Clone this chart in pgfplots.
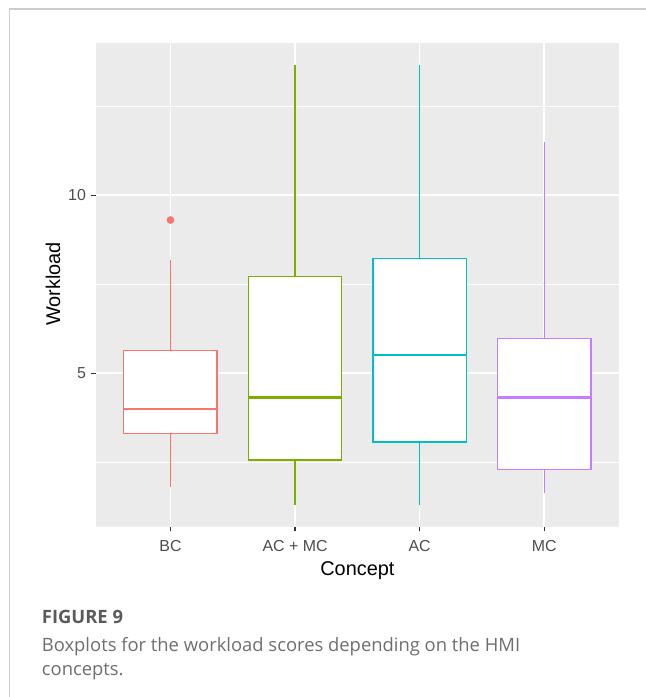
\documentclass[border=0pt]{standalone}
\usepackage{pgfplots}
\pgfplotsset{compat=1.18}
\usepgfplotslibrary{statistics}
\usepackage{fontspec}
\setmainfont{Liberation Sans}
\newfontfamily\capfont{Open Sans}
\definecolor{panelbg}{HTML}{EBEBEB}
\definecolor{bccol}{HTML}{F8766D}
\definecolor{acmccol}{HTML}{7CAE00}
\definecolor{accol}{HTML}{00BFC4}
\definecolor{mccol}{HTML}{C77CFF}
\definecolor{tickcol}{HTML}{4D4D4D}
\definecolor{capgray}{HTML}{6E6E6E}
\definecolor{figgray}{HTML}{5A5A5A}
\begin{document}
\begin{tikzpicture}[x=1pt,y=1pt]
\useasboundingbox (0,0) rectangle (646,697);
% frame
\draw[line width=1.6pt, color=black!20] (9.3,0) -- (9.3,687.7) -- (646,687.7);
\begin{axis}[
  at={(95.7pt,170.3pt)}, anchor=south west,
  scale only axis, width=523.3pt, height=484pt,
  xmin=0.4, xmax=4.6, ymin=0.69, ymax=14.28,
  axis background/.style={fill=panelbg},
  axis line style={draw=none},
  xtick={1,2,3,4}, xticklabels={BC, AC + MC, AC, MC},
  ytick={5,10},
  minor ytick={2.5,7.5,12.5},
  xtick pos=bottom, ytick pos=left,
  tick align=outside,
  major tick length=4.8pt, minor tick length=0pt,
  tick style={color=black!80, line width=1.2pt},
  xmajorgrids, ymajorgrids, yminorgrids,
  major grid style={white, line width=1.5pt},
  minor grid style={white, line width=0.8pt},
  /pgf/number format/assume math mode=true,
  ticklabel style={font=\fontsize{15.9}{18}\selectfont, text=tickcol},
  xticklabel style={anchor=base, yshift=-20pt},
  yticklabel style={xshift=-1.5pt},
  boxplot/draw direction=y,
  boxplot/every median/.style={line width=2.6pt},
]
\addplot[draw=bccol, fill=white, line width=1.4pt, boxplot prepared={draw position=1, median=4.00, upper quartile=5.64, lower quartile=3.30, upper whisker=8.17, lower whisker=1.80, box extend=0.75, whisker extend=0}] coordinates {};
\addplot[draw=acmccol, fill=white, line width=1.4pt, boxplot prepared={draw position=2, median=4.31, upper quartile=7.71, lower quartile=2.56, upper whisker=13.66, lower whisker=1.31, box extend=0.75, whisker extend=0}] coordinates {};
\addplot[draw=accol, fill=white, line width=1.4pt, boxplot prepared={draw position=3, median=5.51, upper quartile=8.22, lower quartile=3.07, upper whisker=13.66, lower whisker=1.31, box extend=0.75, whisker extend=0}] coordinates {};
\addplot[draw=mccol, fill=white, line width=1.4pt, boxplot prepared={draw position=4, median=4.31, upper quartile=5.98, lower quartile=2.29, upper whisker=11.50, lower whisker=1.65, box extend=0.75, whisker extend=0}] coordinates {};
\addplot[only marks, mark=*, mark size=3.6pt, color=bccol] coordinates {(1,9.30)};
\end{axis}
\node[rotate=90, anchor=center, font=\fontsize{19.9}{22}\selectfont] at (53,413) {Workload};
\node[anchor=base, font=\fontsize{19.9}{22}\selectfont] at (357.4,121) {Concept};
\node[anchor=base west, inner sep=0pt, text=figgray, font=\capfont\bfseries\fontsize{18.4}{20}\selectfont] at (41.7,73.5) {FIGURE 9};
\node[anchor=base west, inner sep=0pt, text=capgray, font=\capfont\fontsize{18.4}{20}\selectfont] at (41.7,45.5) {Boxplots for the workload scores depending on the HMI};
\node[anchor=base west, inner sep=0pt, text=capgray, font=\capfont\fontsize{18.4}{20}\selectfont] at (41.7,21) {concepts.};
\end{tikzpicture}
\end{document}
